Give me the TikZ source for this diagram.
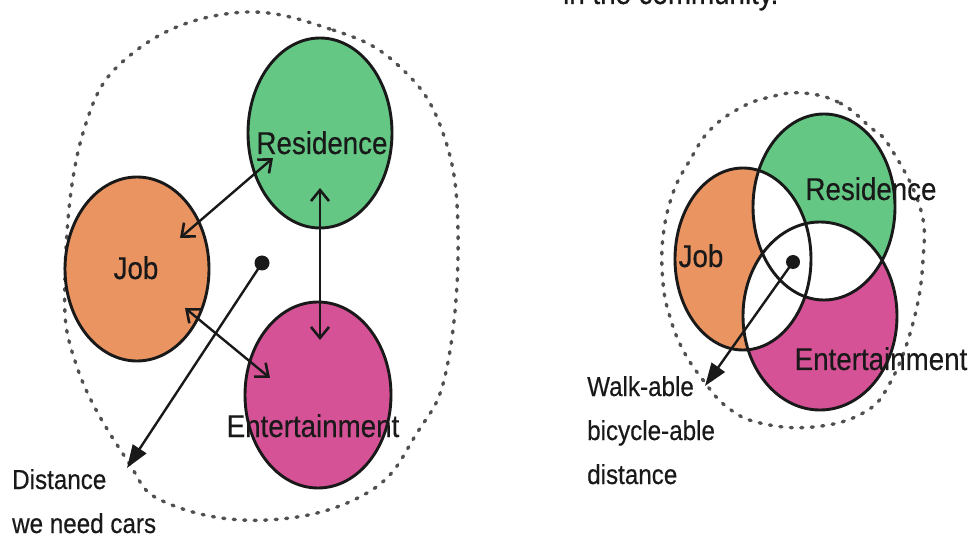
\documentclass[tikz,border=0pt]{standalone}
\usepackage{fontspec}
\setmainfont{Liberation Sans}
\newfontfamily\labfont[FakeStretch=0.88,FakeBold=0.4]{Liberation Sans}
\usetikzlibrary{arrows.meta}
\definecolor{resgreen}{RGB}{100,200,132}
\definecolor{joborange}{RGB}{234,148,98}
\definecolor{entmag}{RGB}{214,82,150}
\definecolor{inkc}{RGB}{25,25,25}
\definecolor{dotc}{RGB}{80,80,80}
\begin{document}
\begin{tikzpicture}[x=1pt,y=-1pt,
  blob/.style={draw=inkc,line width=2.9pt},
  dottedring/.style={draw=dotc,line width=3.4pt,line cap=round,dash pattern=on 2pt off 8.5pt},
  link/.style={draw=inkc,line width=2.4pt,{Straight Barb[length=11pt,width=18pt,line width=2.6pt]}-{Straight Barb[length=11pt,width=18pt,line width=2.6pt]}},
  reach/.style={draw=inkc,line width=2.4pt,-{Triangle[length=23pt,width=16pt]}},
  centre/.style={circle,fill=inkc,inner sep=0pt},
  lab/.style={inner sep=0pt,text=inkc,font=\labfont\fontsize{31.5}{36}\selectfont},
  note/.style={inner sep=0pt,text=inkc,font=\labfont\fontsize{27.5}{30}\selectfont},
]
\clip (0,0) rectangle (975,537);
\fill[white] (0,0) rectangle (975,537);

% cut-off caption at the top
\node[lab,anchor=base west] (caption) at (563,4) {in the community.};

% ================= LEFT DIAGRAM =================
\draw[dottedring] plot[smooth cycle,tension=0.7] coordinates {
  (233,13) (333,30) (400,67) (443,133) (458,233) (447,367) (417,433)
  (367,493) (267,520) (167,503) (127,460) (77,367) (65,277) (83,133) (133,53)};

\draw[blob,fill=resgreen] (320,133) ellipse [x radius=72,y radius=95];
\draw[blob,fill=joborange] (137,269) ellipse [x radius=72,y radius=92];
\draw[blob,fill=entmag] (318,395) ellipse [x radius=73,y radius=93];

\coordinate (rjR) at (273,158);
\coordinate (rjJ) at (180,238);
\coordinate (reR) at (320,188);
\coordinate (reE) at (320,340);
\coordinate (jeJ) at (185,308);
\coordinate (jeE) at (270,378);
\coordinate (tipL) at (127,468);
\node[centre,minimum size=15pt] (dotL) at (262,263) {};

\draw[link] (rjR) -- (rjJ);
\draw[link] (reR) -- (reE);
\draw[link] (jeJ) -- (jeE);
\draw[reach] (dotL.center) -- (tipL);

\node[lab,anchor=base] (resL) at (322,154) {Residence};
\node[lab,anchor=base] (jobL) at (136,279) {Job};
\node[lab,anchor=base] (entL) at (313,437) {Entertainment};
\node[note,anchor=base west] (distA) at (12,489) {Distance};
\node[note,anchor=base west] (distB) at (12,533) {we need cars};

% ================= RIGHT DIAGRAM =================
\draw[dottedring] plot[smooth cycle,tension=0.7] coordinates {
  (803,93) (840,103) (870,127) (890,147) (920,207) (923,260) (913,323)
  (890,383) (863,413) (813,427) (760,423) (727,407) (703,380) (683,350)
  (670,317) (663,283) (663,237) (673,193) (690,160) (710,130) (740,108) (770,97)};

\fill[joborange] (743,259) ellipse [x radius=68,y radius=91];
\fill[resgreen] (824,207) ellipse [x radius=71,y radius=93];
\fill[entmag] (820,316) ellipse [x radius=77,y radius=94];
\begin{scope}
  \clip (743,259) ellipse [x radius=68,y radius=91];
  \fill[white] (824,207) ellipse [x radius=71,y radius=93];
  \fill[white] (820,316) ellipse [x radius=77,y radius=94];
\end{scope}
\begin{scope}
  \clip (824,207) ellipse [x radius=71,y radius=93];
  \fill[white] (820,316) ellipse [x radius=77,y radius=94];
\end{scope}
\draw[blob] (743,259) ellipse [x radius=68,y radius=91];
\draw[blob] (824,207) ellipse [x radius=71,y radius=93];
\draw[blob] (820,316) ellipse [x radius=77,y radius=94];

\coordinate (tipR) at (705,386);
\node[centre,minimum size=14pt] (dotR) at (793,262) {};
\draw[reach] (dotR.center) -- (tipR);

\node[lab,anchor=base] (jobR) at (701,267) {Job};
\node[lab,anchor=base] (resR) at (871,200) {Residence};
\node[lab,anchor=base] (entR) at (881,370) {Entertainment};
\node[note,anchor=base west] (walkA) at (587,396) {Walk-able};
\node[note,anchor=base west] (walkB) at (587,440) {bicycle-able};
\node[note,anchor=base west] (walkC) at (587,484) {distance};
\end{tikzpicture}
\end{document}
